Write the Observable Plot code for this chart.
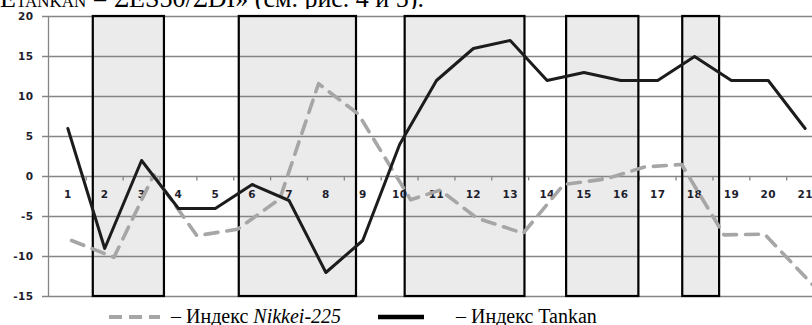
<!DOCTYPE html>
<html><head><meta charset="utf-8">
<script src="https://cdn.jsdelivr.net/npm/d3@7"></script>
<script src="https://cdn.jsdelivr.net/npm/@observablehq/plot@0.6"></script>
<style>
html,body{margin:0;padding:0;background:#fff;overflow:hidden;}
#wrap{position:relative;width:812px;height:325px;overflow:hidden;background:#fff;}
#titleClip{position:absolute;left:0;top:0;width:470px;height:9px;overflow:hidden;}
#title{position:absolute;left:0px;top:-15px;font-family:"Liberation Serif","Times New Roman",serif;font-size:26px;line-height:28px;white-space:nowrap;color:#000;}
#title .sub{font-size:17px;}
#chart{position:absolute;left:0;top:0;}
.leg{position:absolute;font-family:"Liberation Serif","Times New Roman",serif;font-size:20px;line-height:20px;white-space:nowrap;color:#000;}
.lbl text{letter-spacing:0.4px;}
</style></head><body>
<div id="wrap">
  <div id="titleClip"><div id="title">E<span class="sub">TANKAN</span> = ΣES50/ΣDI» (см. рис. 4 и 5).</div></div>
  <div id="chart"></div>
</div>
<script>
// ---- data ----
const categories = ["1","2","3","4","5","6","7","8","9","10","11","12","13","14","15","16","17","18","19","20","21"];
const tankanValues = [6,-9,2,-4,-4,-1,-3,-12,-8,4,12,16,17,12,13,12,12,15,12,12,6];
const nikkeiPositions = [1.1,2.25,3.33,4.5,5.6,6.75,7.8,8.88,10.3,11.1,12.1,13.35,14.45,15.6,16.65,17.65,18.8,19.9,21.3];
const nikkeiValues = [-8,-10.1,0.2,-7.4,-6.6,-2.8,11.6,7.8,-2.9,-1.7,-5.2,-7.1,-1.0,-0.3,1.2,1.5,-7.3,-7.2,-14];
const shadeStarts = [1.69,5.65,10.15,14.53,17.68];
const shadeEnds = [3.62,8.83,13.40,16.49,18.68];
const yTicks = [-15,-10,-5,0,5,10,15,20];
const legendLabels = ["– Индекс ", "Nikkei-225", "– Индекс Tankan"];

// ---- tables built from the arrays ----
const tankan = categories.map((c,i)=>({x:i+1, y:tankanValues[i]}));
const nikkei = nikkeiPositions.map((p,i)=>({x:p, y:nikkeiValues[i]}));
const shades = shadeStarts.map((s,i)=>({x1:s, x2:shadeEnds[i]}));
const boundaries = categories.map((c,i)=>i+1.5);
const xLeft = 0.475;

const fontAxis = {fontFamily:"DejaVu Sans", fontWeight:"bold", fontSize:10.5, fill:"#1e1e2e"};
const grid = "#858585";

const chart = Plot.plot({
  width: 812, height: 306,
  marginLeft: 48, marginRight: 0, marginTop: 16, marginBottom: 10,
  x: {type:"linear", domain:[xLeft, 21.2], axis:null},
  y: {domain:[-15,20], axis:null},
  style: {background:"transparent", overflow:"hidden"},
  marks: [
    Plot.rect(shades, {x1:"x1", x2:"x2", y1:-15, y2:20, fill:"#ebebeb"}),
    Plot.ruleY(yTicks, {y:d=>d, stroke:grid, strokeWidth:1.3, insetLeft:-6}),
    Plot.ruleX([xLeft], {x:d=>d, y1:-15, y2:20, stroke:grid, strokeWidth:1.3}),
    Plot.ruleX(boundaries, {x:d=>d, y1:0, y2:-0.55, stroke:grid, strokeWidth:1.3}),
    Plot.rect(shades, {x1:"x1", x2:"x2", y1:-15, y2:20, fill:"none", stroke:"#000", strokeWidth:2.2}),
    Plot.text(yTicks, {x:xLeft, y:d=>d, text:d=>String(d), dx:-15, textAnchor:"end", ...fontAxis, className:"lbl"}),
    Plot.text(categories, {x:(d,i)=>i+1, y:0, dy:18, text:d=>d, ...fontAxis, className:"lbl"}),
    Plot.line(nikkei, {x:"x", y:"y", stroke:"#a6a6a6", strokeWidth:3.6, strokeDasharray:"13,9", strokeLinejoin:"round", clip:true}),
    Plot.line(tankan, {x:"x", y:"y", stroke:"#1c1c1c", strokeWidth:3, strokeLinejoin:"round", clip:true})
  ]
});
document.getElementById("chart").appendChild(chart);

// ---- legend ----
const wrap = document.getElementById("wrap");
const legSvg = d3.select(wrap).append("svg")
  .style("position","absolute").style("left","0px").style("top","306px")
  .attr("width",812).attr("height",19);
legSvg.append("line").attr("x1",109).attr("x2",160).attr("y1",11).attr("y2",11)
  .attr("stroke","#a6a6a6").attr("stroke-width",4).attr("stroke-dasharray","13,7");
legSvg.append("line").attr("x1",378).attr("x2",424).attr("y1",11).attr("y2",11)
  .attr("stroke","#000").attr("stroke-width",4.5);
const l1 = document.createElement("div");
l1.className = "leg"; l1.style.left = "171px"; l1.style.top = "306px";
l1.innerHTML = legendLabels[0] + "<i>" + legendLabels[1] + "</i>";
wrap.appendChild(l1);
const l2 = document.createElement("div");
l2.className = "leg"; l2.style.left = "456px"; l2.style.top = "306px";
l2.textContent = legendLabels[2];
wrap.appendChild(l2);
</script>
</body></html>
